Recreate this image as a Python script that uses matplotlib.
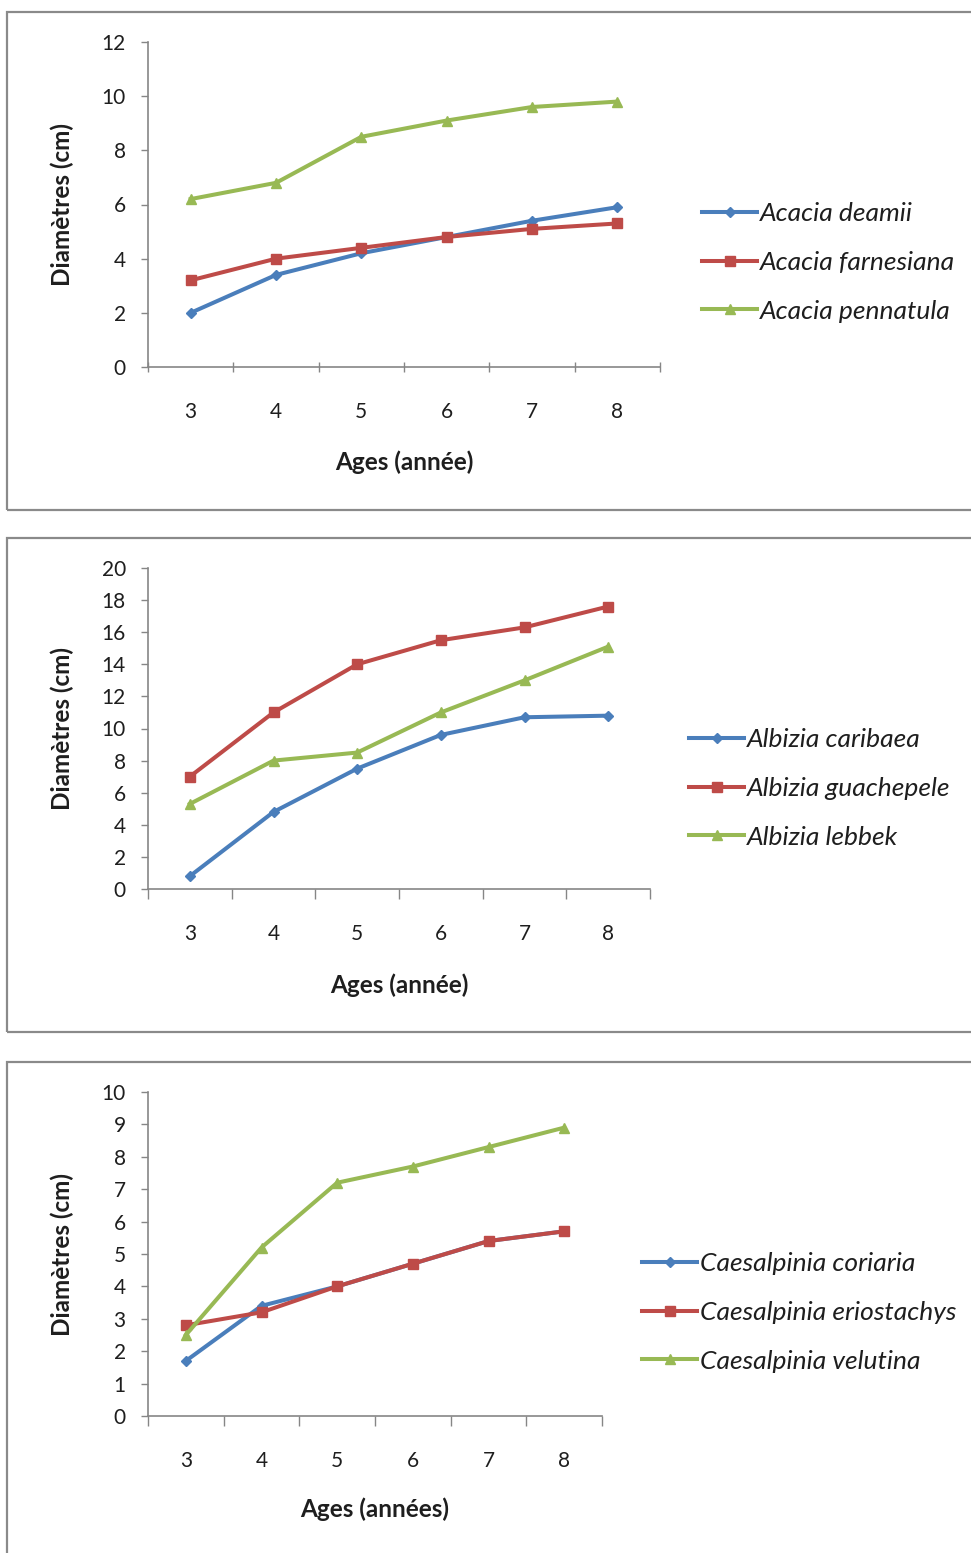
import matplotlib
matplotlib.use("Agg")
import matplotlib.pyplot as plt
from matplotlib.patches import Rectangle

ages = [3, 4, 5, 6, 7, 8]

# Panel 1 - Acacia
acacia_names = ["Acacia deamii", "Acacia farnesiana", "Acacia pennatula"]
acacia_deamii = [2.0, 3.4, 4.2, 4.8, 5.4, 5.9]
acacia_farnesiana = [3.2, 4.0, 4.4, 4.8, 5.1, 5.3]
acacia_pennatula = [6.2, 6.8, 8.5, 9.1, 9.6, 9.8]

# Panel 2 - Albizia
albizia_names = ["Albizia caribaea", "Albizia guachepele", "Albizia lebbek"]
albizia_caribaea = [0.8, 4.8, 7.5, 9.6, 10.7, 10.8]
albizia_guachepele = [7.0, 11.0, 14.0, 15.5, 16.3, 17.6]
albizia_lebbek = [5.3, 8.0, 8.5, 11.0, 13.0, 15.1]

# Panel 3 - Caesalpinia
caes_names = ["Caesalpinia coriaria", "Caesalpinia eriostachys", "Caesalpinia velutina"]
caes_coriaria = [1.7, 3.4, 4.0, 4.7, 5.4, 5.7]
caes_eriostachys = [2.8, 3.2, 4.0, 4.7, 5.4, 5.7]
caes_velutina = [2.5, 5.2, 7.2, 7.7, 8.3, 8.9]

W, H = 971, 1553
fig = plt.figure(figsize=(W / 100, H / 100), dpi=100)
fig.patch.set_facecolor("white")

FONT = "Lato"
COLORS = ["#4A7EBB", "#BE4B48", "#98B954"]
MARKERS = ["D", "s", "^"]
MSIZES = [5.5, 7.5, 7.5]
GRAY = "#868686"
TXT = "#1e1e1e"


def frame(x0, y0, x1, y1):
    fig.patches.append(Rectangle((x0 / W, 1 - y1 / H), (x1 - x0) / W, (y1 - y0) / H,
                                 transform=fig.transFigure, fill=False,
                                 edgecolor="#8a8a8a", linewidth=1.6, zorder=0))


def panel(l, r, t, b, ymax, ystep, series, names, xlabel, ylabel_x, xlabel_y,
          leg_x, leg_y, tickdir):
    ax = fig.add_axes([l / W, 1 - b / H, (r - l) / W, (b - t) / H])
    for vals, c, m, ms in zip(series, COLORS, MARKERS, MSIZES):
        ax.plot(ages, vals, color=c, marker=m, markersize=ms, linewidth=2.9,
                markerfacecolor=c, markeredgecolor=c, clip_on=False)
    ax.set_xlim(2.5, 8.5)
    ax.set_ylim(0, ymax)
    ax.set_yticks(range(0, ymax + 1, ystep))
    ax.set_xticks(ages)
    ax.set_xticks([2.5 + i for i in range(7)], minor=True)
    ax.tick_params(axis="x", which="major", length=0, pad=25, labelsize=15)
    ax.tick_params(axis="x", which="minor", length=7, width=1, color=GRAY,
                   direction=tickdir)
    ax.tick_params(axis="y", length=5, width=1, color=GRAY, pad=11, labelsize=15)
    for lab in ax.get_xticklabels() + ax.get_yticklabels():
        lab.set_fontfamily(FONT)
        lab.set_color(TXT)
    for s in ["top", "right"]:
        ax.spines[s].set_visible(False)
    for s in ["left", "bottom"]:
        ax.spines[s].set_color(GRAY)
        ax.spines[s].set_linewidth(1.2)
    fig.text(ylabel_x / W, 1 - (t + b) / 2 / H, "Diamètres (cm)", rotation=90,
             ha="center", va="center", fontsize=17.5, fontweight="bold",
             family=FONT, color=TXT)
    fig.text((l + r) / 2 / W, 1 - xlabel_y / H, xlabel, ha="center", va="center",
             fontsize=17.5, fontweight="bold", family=FONT, color=TXT)
    leg = ax.legend(names, loc="upper left",
                    bbox_to_anchor=(leg_x / W, 1 - leg_y / H),
                    bbox_transform=fig.transFigure, frameon=False,
                    handlelength=2.1, handletextpad=0.1, labelspacing=0.98,
                    borderaxespad=0, borderpad=0,
                    prop={"family": FONT, "style": "italic", "size": 19})
    for txt in leg.get_texts():
        txt.set_color(TXT)
    return ax


frame(7, 12, 1000, 510)
frame(7, 538, 1000, 1032)
frame(7, 1062, 1000, 1600)

panel(148, 660, 42, 367, 12, 2,
      [acacia_deamii, acacia_farnesiana, acacia_pennatula], acacia_names,
      "Ages (année)", 62, 462, 702, 202, "inout")
panel(148, 650, 568, 889, 20, 2,
      [albizia_caribaea, albizia_guachepele, albizia_lebbek], albizia_names,
      "Ages (année)", 62, 985, 689, 728, "out")
panel(148, 602, 1092, 1416, 10, 1,
      [caes_coriaria, caes_eriostachys, caes_velutina], caes_names,
      "Ages (années)", 62, 1509, 642, 1252, "out")

fig.savefig("out.png", dpi=100)
